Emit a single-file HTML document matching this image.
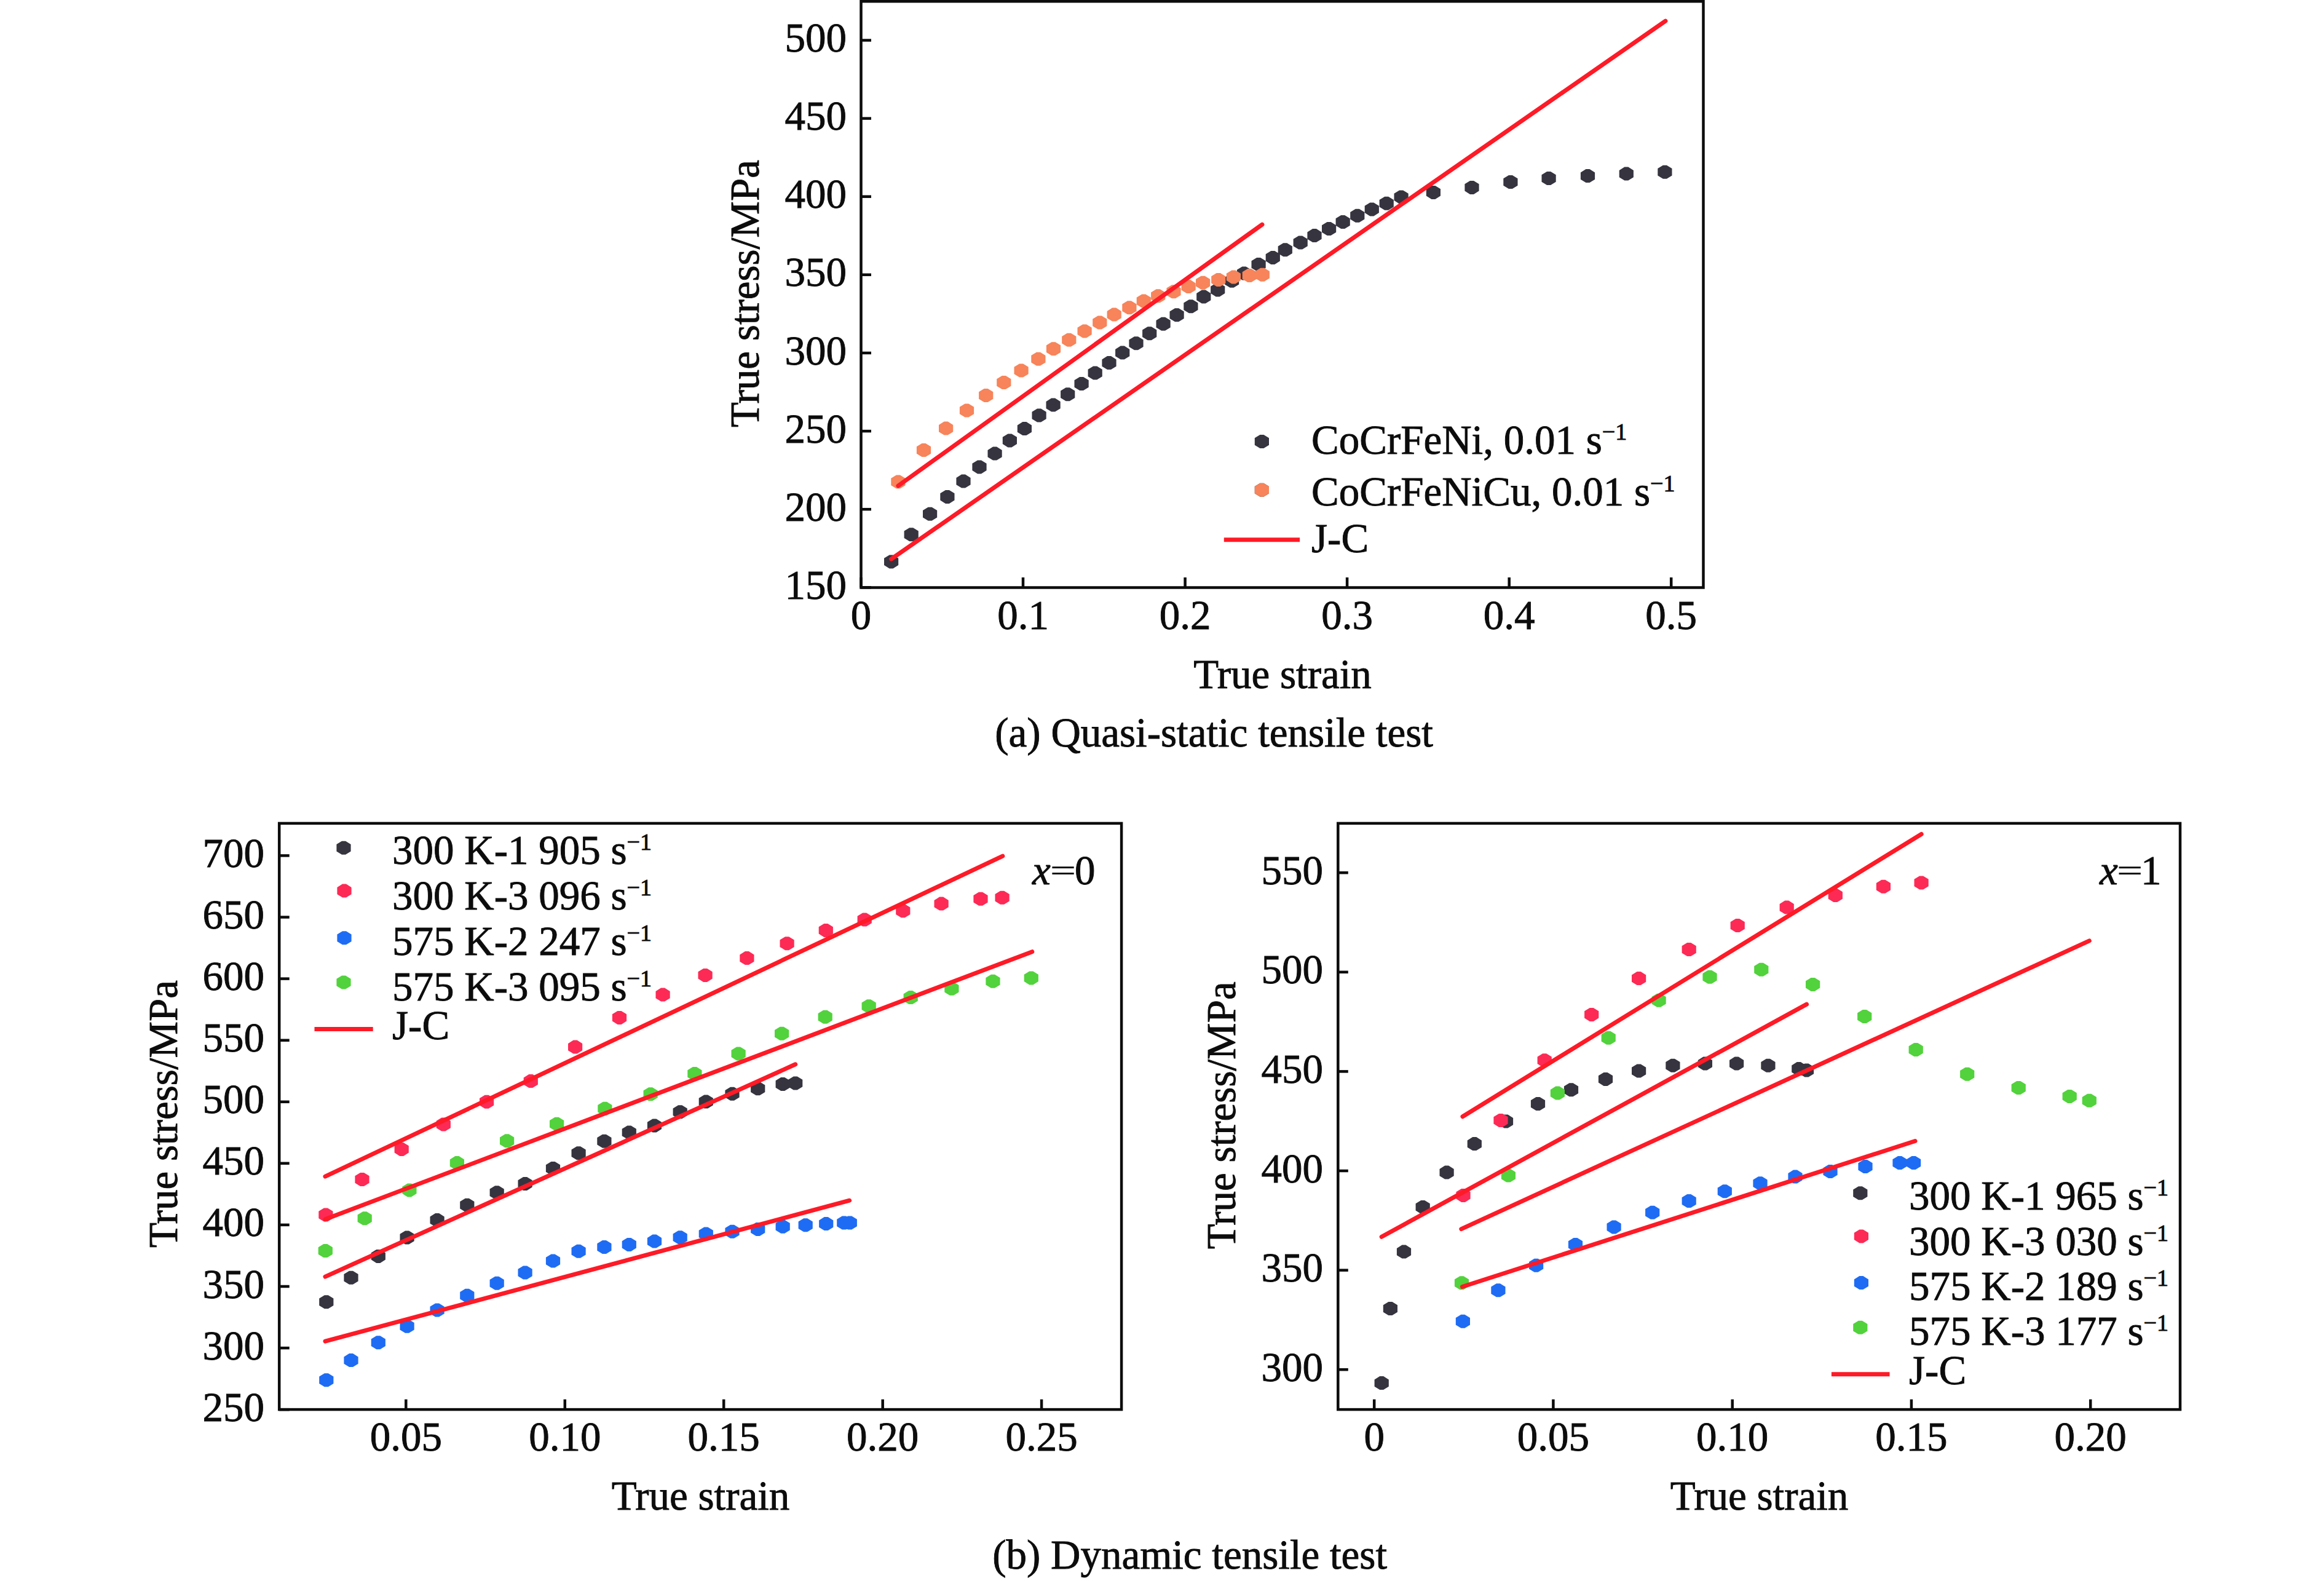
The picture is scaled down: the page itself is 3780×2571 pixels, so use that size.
<!DOCTYPE html>
<html><head><meta charset="utf-8"><style>
html,body{margin:0;padding:0;background:#fff;}
body{width:3780px;height:2571px;overflow:hidden;}
svg{display:block;}
</style></head><body>
<svg width="3780" height="2571" viewBox="0 0 3780 2571" fill="#0c0c0c">
<style>svg{font-family:"Liberation Serif", serif;} text{font-family:"Liberation Serif", serif;stroke:#0c0c0c;stroke-width:0.9px;}</style>
<rect width="3780" height="2571" fill="#fff"/>
<path d="M1438.0 907.7L1446.6 902.4L1452.6 902.4L1461.2 907.7L1461.2 919.1L1452.6 924.4L1446.6 924.4L1438.0 919.1ZM1470.6 863.5L1479.2 858.2L1485.2 858.2L1493.8 863.5L1493.8 874.9L1485.2 880.2L1479.2 880.2L1470.6 874.9ZM1501.0 830.1L1509.6 824.8L1515.6 824.8L1524.2 830.1L1524.2 841.5L1515.6 846.8L1509.6 846.8L1501.0 841.5ZM1529.3 802.2L1537.9 796.9L1543.9 796.9L1552.5 802.2L1552.5 813.6L1543.9 818.9L1537.9 818.9L1529.3 813.6ZM1555.4 776.9L1564.0 771.6L1570.0 771.6L1578.6 776.9L1578.6 788.3L1570.0 793.6L1564.0 793.6L1555.4 788.3ZM1581.4 753.7L1590.0 748.4L1596.0 748.4L1604.6 753.7L1604.6 765.1L1596.0 770.4L1590.0 770.4L1581.4 765.1ZM1606.5 731.9L1615.1 726.6L1621.1 726.6L1629.7 731.9L1629.7 743.3L1621.1 748.6L1615.1 748.6L1606.5 743.3ZM1630.8 710.7L1639.4 705.4L1645.4 705.4L1654.0 710.7L1654.0 722.1L1645.4 727.4L1639.4 727.4L1630.8 722.1ZM1654.8 691.4L1663.4 686.1L1669.4 686.1L1678.0 691.4L1678.0 702.8L1669.4 708.1L1663.4 708.1L1654.8 702.8ZM1678.5 669.8L1687.1 664.5L1693.1 664.5L1701.7 669.8L1701.7 681.2L1693.1 686.5L1687.1 686.5L1678.5 681.2ZM1701.5 652.9L1710.1 647.6L1716.1 647.6L1724.7 652.9L1724.7 664.3L1716.1 669.6L1710.1 669.6L1701.5 664.3ZM1725.1 635.6L1733.7 630.3L1739.7 630.3L1748.3 635.6L1748.3 647.0L1739.7 652.3L1733.7 652.3L1725.1 647.0ZM1747.5 618.3L1756.1 613.0L1762.1 613.0L1770.7 618.3L1770.7 629.7L1762.1 635.0L1756.1 635.0L1747.5 629.7ZM1769.6 600.8L1778.2 595.5L1784.2 595.5L1792.8 600.8L1792.8 612.2L1784.2 617.5L1778.2 617.5L1769.6 612.2ZM1792.4 584.4L1801.0 579.1L1807.0 579.1L1815.6 584.4L1815.6 595.8L1807.0 601.1L1801.0 601.1L1792.4 595.8ZM1814.1 567.9L1822.7 562.6L1828.7 562.6L1837.3 567.9L1837.3 579.3L1828.7 584.6L1822.7 584.6L1814.1 579.3ZM1836.4 552.5L1845.0 547.2L1851.0 547.2L1859.6 552.5L1859.6 563.9L1851.0 569.2L1845.0 569.2L1836.4 563.9ZM1858.1 536.5L1866.7 531.2L1872.7 531.2L1881.3 536.5L1881.3 547.9L1872.7 553.2L1866.7 553.2L1858.1 547.9ZM1880.5 521.1L1889.1 515.8L1895.1 515.8L1903.7 521.1L1903.7 532.5L1895.1 537.8L1889.1 537.8L1880.5 532.5ZM1902.5 506.5L1911.1 501.2L1917.1 501.2L1925.7 506.5L1925.7 517.9L1917.1 523.2L1911.1 523.2L1902.5 517.9ZM1925.3 492.5L1933.9 487.2L1939.9 487.2L1948.5 492.5L1948.5 503.9L1939.9 509.2L1933.9 509.2L1925.3 503.9ZM1946.2 476.9L1954.8 471.6L1960.8 471.6L1969.4 476.9L1969.4 488.3L1960.8 493.6L1954.8 493.6L1946.2 488.3ZM1969.1 465.7L1977.7 460.4L1983.7 460.4L1992.3 465.7L1992.3 477.1L1983.7 482.4L1977.7 482.4L1969.1 477.1ZM1992.0 451.0L2000.6 445.7L2006.6 445.7L2015.2 451.0L2015.2 462.4L2006.6 467.7L2000.6 467.7L1992.0 462.4ZM2011.9 438.7L2020.5 433.4L2026.5 433.4L2035.1 438.7L2035.1 450.1L2026.5 455.4L2020.5 455.4L2011.9 450.1ZM2035.5 424.3L2044.1 419.0L2050.1 419.0L2058.7 424.3L2058.7 435.7L2050.1 441.0L2044.1 441.0L2035.5 435.7ZM2058.7 413.2L2067.3 407.9L2073.3 407.9L2081.9 413.2L2081.9 424.6L2073.3 429.9L2067.3 429.9L2058.7 424.6ZM2078.7 400.5L2087.3 395.2L2093.3 395.2L2101.9 400.5L2101.9 411.9L2093.3 417.2L2087.3 417.2L2078.7 411.9ZM2103.6 388.8L2112.2 383.5L2118.2 383.5L2126.8 388.8L2126.8 400.2L2118.2 405.5L2112.2 405.5L2103.6 400.2ZM2126.4 377.4L2135.0 372.1L2141.0 372.1L2149.6 377.4L2149.6 388.8L2141.0 394.1L2135.0 394.1L2126.4 388.8ZM2150.0 366.3L2158.6 361.0L2164.6 361.0L2173.2 366.3L2173.2 377.7L2164.6 383.0L2158.6 383.0L2150.0 377.7ZM2172.6 355.3L2181.2 350.0L2187.2 350.0L2195.8 355.3L2195.8 366.7L2187.2 372.0L2181.2 372.0L2172.6 366.7ZM2196.2 345.0L2204.8 339.7L2210.8 339.7L2219.4 345.0L2219.4 356.4L2210.8 361.7L2204.8 361.7L2196.2 356.4ZM2219.7 334.7L2228.3 329.4L2234.3 329.4L2242.9 334.7L2242.9 346.1L2234.3 351.4L2228.3 351.4L2219.7 346.1ZM2243.6 325.0L2252.2 319.7L2258.2 319.7L2266.8 325.0L2266.8 336.4L2258.2 341.7L2252.2 341.7L2243.6 336.4ZM2267.5 314.7L2276.1 309.4L2282.1 309.4L2290.7 314.7L2290.7 326.1L2282.1 331.4L2276.1 331.4L2267.5 326.1ZM2319.8 307.2L2328.4 301.9L2334.4 301.9L2343.0 307.2L2343.0 318.6L2334.4 323.9L2328.4 323.9L2319.8 318.6ZM2382.4 299.2L2391.0 293.9L2397.0 293.9L2405.6 299.2L2405.6 310.6L2397.0 315.9L2391.0 315.9L2382.4 310.6ZM2445.3 290.3L2453.9 285.0L2459.9 285.0L2468.5 290.3L2468.5 301.7L2459.9 307.0L2453.9 307.0L2445.3 301.7ZM2507.5 284.3L2516.1 279.0L2522.1 279.0L2530.7 284.3L2530.7 295.7L2522.1 301.0L2516.1 301.0L2507.5 295.7ZM2570.9 280.4L2579.5 275.1L2585.5 275.1L2594.1 280.4L2594.1 291.8L2585.5 297.1L2579.5 297.1L2570.9 291.8ZM2633.7 276.9L2642.3 271.6L2648.3 271.6L2656.9 276.9L2656.9 288.3L2648.3 293.6L2642.3 293.6L2633.7 288.3ZM2696.3 274.1L2704.9 268.8L2710.9 268.8L2719.5 274.1L2719.5 285.5L2710.9 290.8L2704.9 290.8L2696.3 285.5Z" fill="#35343f"/>
<path d="M1449.3 777.8L1457.9 772.5L1463.9 772.5L1472.5 777.8L1472.5 789.2L1463.9 794.5L1457.9 794.5L1449.3 789.2ZM1490.9 726.3L1499.5 721.0L1505.5 721.0L1514.1 726.3L1514.1 737.7L1505.5 743.0L1499.5 743.0L1490.9 737.7ZM1527.0 690.9L1535.6 685.6L1541.6 685.6L1550.2 690.9L1550.2 702.3L1541.6 707.6L1535.6 707.6L1527.0 702.3ZM1560.9 661.8L1569.5 656.5L1575.5 656.5L1584.1 661.8L1584.1 673.2L1575.5 678.5L1569.5 678.5L1560.9 673.2ZM1592.1 637.3L1600.7 632.0L1606.7 632.0L1615.3 637.3L1615.3 648.7L1606.7 654.0L1600.7 654.0L1592.1 648.7ZM1621.2 616.3L1629.8 611.0L1635.8 611.0L1644.4 616.3L1644.4 627.7L1635.8 633.0L1629.8 633.0L1621.2 627.7ZM1649.5 596.8L1658.1 591.5L1664.1 591.5L1672.7 596.8L1672.7 608.2L1664.1 613.5L1658.1 613.5L1649.5 608.2ZM1677.3 578.0L1685.9 572.7L1691.9 572.7L1700.5 578.0L1700.5 589.4L1691.9 594.7L1685.9 594.7L1677.3 589.4ZM1701.9 561.6L1710.5 556.3L1716.5 556.3L1725.1 561.6L1725.1 573.0L1716.5 578.3L1710.5 578.3L1701.9 573.0ZM1727.2 547.0L1735.8 541.7L1741.8 541.7L1750.4 547.0L1750.4 558.4L1741.8 563.7L1735.8 563.7L1727.2 558.4ZM1752.5 532.7L1761.1 527.4L1767.1 527.4L1775.7 532.7L1775.7 544.1L1767.1 549.4L1761.1 549.4L1752.5 544.1ZM1777.2 518.8L1785.8 513.5L1791.8 513.5L1800.4 518.8L1800.4 530.2L1791.8 535.5L1785.8 535.5L1777.2 530.2ZM1800.6 505.9L1809.2 500.6L1815.2 500.6L1823.8 505.9L1823.8 517.3L1815.2 522.6L1809.2 522.6L1800.6 517.3ZM1825.3 494.5L1833.9 489.2L1839.9 489.2L1848.5 494.5L1848.5 505.9L1839.9 511.2L1833.9 511.2L1825.3 505.9ZM1848.7 483.8L1857.3 478.5L1863.3 478.5L1871.9 483.8L1871.9 495.2L1863.3 500.5L1857.3 500.5L1848.7 495.2ZM1872.1 475.6L1880.7 470.3L1886.7 470.3L1895.3 475.6L1895.3 487.0L1886.7 492.3L1880.7 492.3L1872.1 487.0ZM1897.4 468.5L1906.0 463.2L1912.0 463.2L1920.6 468.5L1920.6 479.9L1912.0 485.2L1906.0 485.2L1897.4 479.9ZM1921.5 460.4L1930.1 455.1L1936.1 455.1L1944.7 460.4L1944.7 471.8L1936.1 477.1L1930.1 477.1L1921.5 471.8ZM1945.0 454.1L1953.6 448.8L1959.6 448.8L1968.2 454.1L1968.2 465.5L1959.6 470.8L1953.6 470.8L1945.0 465.5ZM1970.2 449.2L1978.8 443.9L1984.8 443.9L1993.4 449.2L1993.4 460.6L1984.8 465.9L1978.8 465.9L1970.2 460.6ZM1994.8 444.7L2003.4 439.4L2009.4 439.4L2018.0 444.7L2018.0 456.1L2009.4 461.4L2003.4 461.4L1994.8 456.1ZM2020.7 442.3L2029.3 437.0L2035.3 437.0L2043.9 442.3L2043.9 453.7L2035.3 459.0L2029.3 459.0L2020.7 453.7ZM2041.7 441.1L2050.3 435.8L2056.3 435.8L2064.9 441.1L2064.9 452.5L2056.3 457.8L2050.3 457.8L2041.7 452.5Z" fill="#f7845a"/>
<line x1="1449.6" y1="909.1" x2="2708.9" y2="34.1" stroke="#fe1a26" stroke-width="7" stroke-linecap="round"/>
<line x1="1460.9" y1="790" x2="2052.9" y2="365.1" stroke="#fe1a26" stroke-width="7" stroke-linecap="round"/>
<rect x="1400.5" y="2.25" width="1370.0" height="953.25" fill="none" stroke="#0c0c0c" stroke-width="4.5"/>
<line x1="1400.5" y1="955.3" x2="1417.0" y2="955.3" stroke="#0c0c0c" stroke-width="4.5"/>
<text x="1377" y="973.8" text-anchor="end" font-size="67" >150</text>
<line x1="1400.5" y1="828.2" x2="1417.0" y2="828.2" stroke="#0c0c0c" stroke-width="4.5"/>
<text x="1377" y="846.7" text-anchor="end" font-size="67" >200</text>
<line x1="1400.5" y1="701.1" x2="1417.0" y2="701.1" stroke="#0c0c0c" stroke-width="4.5"/>
<text x="1377" y="719.6" text-anchor="end" font-size="67" >250</text>
<line x1="1400.5" y1="574.0" x2="1417.0" y2="574.0" stroke="#0c0c0c" stroke-width="4.5"/>
<text x="1377" y="592.5" text-anchor="end" font-size="67" >300</text>
<line x1="1400.5" y1="446.8" x2="1417.0" y2="446.8" stroke="#0c0c0c" stroke-width="4.5"/>
<text x="1377" y="465.3" text-anchor="end" font-size="67" >350</text>
<line x1="1400.5" y1="319.7" x2="1417.0" y2="319.7" stroke="#0c0c0c" stroke-width="4.5"/>
<text x="1377" y="338.2" text-anchor="end" font-size="67" >400</text>
<line x1="1400.5" y1="192.6" x2="1417.0" y2="192.6" stroke="#0c0c0c" stroke-width="4.5"/>
<text x="1377" y="211.1" text-anchor="end" font-size="67" >450</text>
<line x1="1400.5" y1="65.5" x2="1417.0" y2="65.5" stroke="#0c0c0c" stroke-width="4.5"/>
<text x="1377" y="84.0" text-anchor="end" font-size="67" >500</text>
<line x1="1400.5" y1="955.5" x2="1400.5" y2="939.0" stroke="#0c0c0c" stroke-width="4.5"/>
<text x="1400.5" y="1023.3" text-anchor="middle" font-size="67" >0</text>
<line x1="1664.0" y1="955.5" x2="1664.0" y2="939.0" stroke="#0c0c0c" stroke-width="4.5"/>
<text x="1664.0" y="1023.3" text-anchor="middle" font-size="67" >0.1</text>
<line x1="1927.6" y1="955.5" x2="1927.6" y2="939.0" stroke="#0c0c0c" stroke-width="4.5"/>
<text x="1927.6" y="1023.3" text-anchor="middle" font-size="67" >0.2</text>
<line x1="2191.1" y1="955.5" x2="2191.1" y2="939.0" stroke="#0c0c0c" stroke-width="4.5"/>
<text x="2191.1" y="1023.3" text-anchor="middle" font-size="67" >0.3</text>
<line x1="2454.7" y1="955.5" x2="2454.7" y2="939.0" stroke="#0c0c0c" stroke-width="4.5"/>
<text x="2454.7" y="1023.3" text-anchor="middle" font-size="67" >0.4</text>
<line x1="2718.2" y1="955.5" x2="2718.2" y2="939.0" stroke="#0c0c0c" stroke-width="4.5"/>
<text x="2718.2" y="1023.3" text-anchor="middle" font-size="67" >0.5</text>
<text x="2086" y="1119" text-anchor="middle" font-size="67" >True strain</text>
<text transform="translate(1234,477.6) rotate(-90)" text-anchor="middle" font-size="67">True stress/MPa</text>
<text x="1974.6" y="1214.2" text-anchor="middle" font-size="67" >(a) Quasi-static tensile test</text>
<path d="M2040.8 712.3L2049.4 707.0L2055.4 707.0L2064.0 712.3L2064.0 723.7L2055.4 729.0L2049.4 729.0L2040.8 723.7ZM2040.8 791.0L2049.4 785.7L2055.4 785.7L2064.0 791.0L2064.0 802.4L2055.4 807.7L2049.4 807.7L2040.8 802.4Z" fill="#35343f"/>
<path d="M2040.8 791.0L2049.4 785.7L2055.4 785.7L2064.0 791.0L2064.0 802.4L2055.4 807.7L2049.4 807.7L2040.8 802.4Z" fill="#f7845a"/>
<line x1="1990.8" y1="877.8" x2="2114.1" y2="877.8" stroke="#fe1a26" stroke-width="7" stroke-linecap="butt"/>
<text x="2133" y="738.2" font-size="67">CoCrFeNi, 0.01 s<tspan font-size="38" dy="-23">&#8722;1</tspan></text>
<text x="2133" y="822.2" font-size="67">CoCrFeNiCu, 0.01 s<tspan font-size="38" dy="-23">&#8722;1</tspan></text>
<text x="2133" y="898" text-anchor="start" font-size="67" >J-C</text>
<path d="M519.2 2111.5L527.8 2106.2L533.8 2106.2L542.4 2111.5L542.4 2122.9L533.8 2128.2L527.8 2128.2L519.2 2122.9ZM559.4 2072.0L568.0 2066.7L574.0 2066.7L582.6 2072.0L582.6 2083.4L574.0 2088.7L568.0 2088.7L559.4 2083.4ZM603.7 2037.2L612.3 2031.9L618.3 2031.9L626.9 2037.2L626.9 2048.6L618.3 2053.9L612.3 2053.9L603.7 2048.6ZM650.5 2006.8L659.1 2001.5L665.1 2001.5L673.7 2006.8L673.7 2018.2L665.1 2023.5L659.1 2023.5L650.5 2018.2ZM699.5 1978.4L708.1 1973.1L714.1 1973.1L722.7 1978.4L722.7 1989.8L714.1 1995.1L708.1 1995.1L699.5 1989.8ZM748.2 1954.0L756.8 1948.7L762.8 1948.7L771.4 1954.0L771.4 1965.4L762.8 1970.7L756.8 1970.7L748.2 1965.4ZM796.6 1933.5L805.2 1928.2L811.2 1928.2L819.8 1933.5L819.8 1944.9L811.2 1950.2L805.2 1950.2L796.6 1944.9ZM842.5 1919.2L851.1 1913.9L857.1 1913.9L865.7 1919.2L865.7 1930.6L857.1 1935.9L851.1 1935.9L842.5 1930.6ZM887.9 1894.3L896.5 1889.0L902.5 1889.0L911.1 1894.3L911.1 1905.7L902.5 1911.0L896.5 1911.0L887.9 1905.7ZM929.5 1869.6L938.1 1864.3L944.1 1864.3L952.7 1869.6L952.7 1881.0L944.1 1886.3L938.1 1886.3L929.5 1881.0ZM971.3 1850.0L979.9 1844.7L985.9 1844.7L994.5 1850.0L994.5 1861.4L985.9 1866.7L979.9 1866.7L971.3 1861.4ZM1011.7 1835.8L1020.3 1830.5L1026.3 1830.5L1034.9 1835.8L1034.9 1847.2L1026.3 1852.5L1020.3 1852.5L1011.7 1847.2ZM1052.9 1824.7L1061.5 1819.4L1067.5 1819.4L1076.1 1824.7L1076.1 1836.1L1067.5 1841.4L1061.5 1841.4L1052.9 1836.1ZM1094.6 1802.6L1103.2 1797.3L1109.2 1797.3L1117.8 1802.6L1117.8 1814.0L1109.2 1819.3L1103.2 1819.3L1094.6 1814.0ZM1136.7 1785.8L1145.3 1780.5L1151.3 1780.5L1159.9 1785.8L1159.9 1797.2L1151.3 1802.5L1145.3 1802.5L1136.7 1797.2ZM1179.4 1773.1L1188.0 1767.8L1194.0 1767.8L1202.6 1773.1L1202.6 1784.5L1194.0 1789.8L1188.0 1789.8L1179.4 1784.5ZM1221.1 1764.6L1229.7 1759.3L1235.7 1759.3L1244.3 1764.6L1244.3 1776.0L1235.7 1781.3L1229.7 1781.3L1221.1 1776.0ZM1261.6 1757.3L1270.2 1752.0L1276.2 1752.0L1284.8 1757.3L1284.8 1768.7L1276.2 1774.0L1270.2 1774.0L1261.6 1768.7ZM1282.1 1755.8L1290.7 1750.5L1296.7 1750.5L1305.3 1755.8L1305.3 1767.2L1296.7 1772.5L1290.7 1772.5L1282.1 1767.2Z" fill="#35343f"/>
<path d="M518.3 1969.8L526.9 1964.5L532.9 1964.5L541.5 1969.8L541.5 1981.2L532.9 1986.5L526.9 1986.5L518.3 1981.2ZM577.4 1912.3L586.0 1907.0L592.0 1907.0L600.6 1912.3L600.6 1923.7L592.0 1929.0L586.0 1929.0L577.4 1923.7ZM641.6 1863.2L650.2 1857.9L656.2 1857.9L664.8 1863.2L664.8 1874.6L656.2 1879.9L650.2 1879.9L641.6 1874.6ZM709.7 1822.8L718.3 1817.5L724.3 1817.5L732.9 1822.8L732.9 1834.2L724.3 1839.5L718.3 1839.5L709.7 1834.2ZM780.0 1786.0L788.6 1780.7L794.6 1780.7L803.2 1786.0L803.2 1797.4L794.6 1802.7L788.6 1802.7L780.0 1797.4ZM851.7 1752.4L860.3 1747.1L866.3 1747.1L874.9 1752.4L874.9 1763.8L866.3 1769.1L860.3 1769.1L851.7 1763.8ZM924.0 1696.9L932.6 1691.6L938.6 1691.6L947.2 1696.9L947.2 1708.3L938.6 1713.6L932.6 1713.6L924.0 1708.3ZM995.9 1649.2L1004.5 1643.9L1010.5 1643.9L1019.1 1649.2L1019.1 1660.6L1010.5 1665.9L1004.5 1665.9L995.9 1660.6ZM1066.5 1611.9L1075.1 1606.6L1081.1 1606.6L1089.7 1611.9L1089.7 1623.3L1081.1 1628.6L1075.1 1628.6L1066.5 1623.3ZM1135.5 1580.2L1144.1 1574.9L1150.1 1574.9L1158.7 1580.2L1158.7 1591.6L1150.1 1596.9L1144.1 1596.9L1135.5 1591.6ZM1203.3 1552.4L1211.9 1547.1L1217.9 1547.1L1226.5 1552.4L1226.5 1563.8L1217.9 1569.1L1211.9 1569.1L1203.3 1563.8ZM1268.5 1528.5L1277.1 1523.2L1283.1 1523.2L1291.7 1528.5L1291.7 1539.9L1283.1 1545.2L1277.1 1545.2L1268.5 1539.9ZM1331.7 1507.2L1340.3 1501.9L1346.3 1501.9L1354.9 1507.2L1354.9 1518.6L1346.3 1523.9L1340.3 1523.9L1331.7 1518.6ZM1394.6 1489.8L1403.2 1484.5L1409.2 1484.5L1417.8 1489.8L1417.8 1501.2L1409.2 1506.5L1403.2 1506.5L1394.6 1501.2ZM1457.2 1475.6L1465.8 1470.3L1471.8 1470.3L1480.4 1475.6L1480.4 1487.0L1471.8 1492.3L1465.8 1492.3L1457.2 1487.0ZM1519.5 1463.9L1528.1 1458.6L1534.1 1458.6L1542.7 1463.9L1542.7 1475.3L1534.1 1480.6L1528.1 1480.6L1519.5 1475.3ZM1583.4 1456.0L1592.0 1450.7L1598.0 1450.7L1606.6 1456.0L1606.6 1467.4L1598.0 1472.7L1592.0 1472.7L1583.4 1467.4ZM1618.5 1454.1L1627.1 1448.8L1633.1 1448.8L1641.7 1454.1L1641.7 1465.5L1633.1 1470.8L1627.1 1470.8L1618.5 1465.5Z" fill="#fd2a55"/>
<path d="M519.2 2238.6L527.8 2233.3L533.8 2233.3L542.4 2238.6L542.4 2250.0L533.8 2255.3L527.8 2255.3L519.2 2250.0ZM559.4 2206.4L568.0 2201.1L574.0 2201.1L582.6 2206.4L582.6 2217.8L574.0 2223.1L568.0 2223.1L559.4 2217.8ZM603.7 2177.6L612.3 2172.3L618.3 2172.3L626.9 2177.6L626.9 2189.0L618.3 2194.3L612.3 2194.3L603.7 2189.0ZM650.5 2151.0L659.1 2145.7L665.1 2145.7L673.7 2151.0L673.7 2162.4L665.1 2167.7L659.1 2167.7L650.5 2162.4ZM699.5 2124.8L708.1 2119.5L714.1 2119.5L722.7 2124.8L722.7 2136.2L714.1 2141.5L708.1 2141.5L699.5 2136.2ZM748.2 2101.1L756.8 2095.8L762.8 2095.8L771.4 2101.1L771.4 2112.5L762.8 2117.8L756.8 2117.8L748.2 2112.5ZM796.6 2081.1L805.2 2075.8L811.2 2075.8L819.8 2081.1L819.8 2092.5L811.2 2097.8L805.2 2097.8L796.6 2092.5ZM842.5 2063.8L851.1 2058.5L857.1 2058.5L865.7 2063.8L865.7 2075.2L857.1 2080.5L851.1 2080.5L842.5 2075.2ZM887.9 2044.8L896.5 2039.5L902.5 2039.5L911.1 2044.8L911.1 2056.2L902.5 2061.5L896.5 2061.5L887.9 2056.2ZM929.5 2029.0L938.1 2023.7L944.1 2023.7L952.7 2029.0L952.7 2040.4L944.1 2045.7L938.1 2045.7L929.5 2040.4ZM971.3 2022.3L979.9 2017.0L985.9 2017.0L994.5 2022.3L994.5 2033.7L985.9 2039.0L979.9 2039.0L971.3 2033.7ZM1011.7 2018.2L1020.3 2012.9L1026.3 2012.9L1034.9 2018.2L1034.9 2029.6L1026.3 2034.9L1020.3 2034.9L1011.7 2029.6ZM1052.9 2012.9L1061.5 2007.6L1067.5 2007.6L1076.1 2012.9L1076.1 2024.3L1067.5 2029.6L1061.5 2029.6L1052.9 2024.3ZM1094.6 2006.5L1103.2 2001.2L1109.2 2001.2L1117.8 2006.5L1117.8 2017.9L1109.2 2023.2L1103.2 2023.2L1094.6 2017.9ZM1136.7 2000.8L1145.3 1995.5L1151.3 1995.5L1159.9 2000.8L1159.9 2012.2L1151.3 2017.5L1145.3 2017.5L1136.7 2012.2ZM1179.4 1997.1L1188.0 1991.8L1194.0 1991.8L1202.6 1997.1L1202.6 2008.5L1194.0 2013.8L1188.0 2013.8L1179.4 2008.5ZM1221.1 1993.3L1229.7 1988.0L1235.7 1988.0L1244.3 1993.3L1244.3 2004.7L1235.7 2010.0L1229.7 2010.0L1221.1 2004.7ZM1261.6 1989.1L1270.2 1983.8L1276.2 1983.8L1284.8 1989.1L1284.8 2000.5L1276.2 2005.8L1270.2 2005.8L1261.6 2000.5ZM1298.6 1986.6L1307.2 1981.3L1313.2 1981.3L1321.8 1986.6L1321.8 1998.0L1313.2 2003.3L1307.2 2003.3L1298.6 1998.0ZM1332.1 1984.4L1340.7 1979.1L1346.7 1979.1L1355.3 1984.4L1355.3 1995.8L1346.7 2001.1L1340.7 2001.1L1332.1 1995.8ZM1361.2 1982.8L1369.8 1977.5L1375.8 1977.5L1384.4 1982.8L1384.4 1994.2L1375.8 1999.5L1369.8 1999.5L1361.2 1994.2ZM1370.7 1982.8L1379.3 1977.5L1385.3 1977.5L1393.9 1982.8L1393.9 1994.2L1385.3 1999.5L1379.3 1999.5L1370.7 1994.2Z" fill="#1f6cf4"/>
<path d="M517.7 2028.3L526.3 2023.0L532.3 2023.0L540.9 2028.3L540.9 2039.7L532.3 2045.0L526.3 2045.0L517.7 2039.7ZM581.6 1975.5L590.2 1970.2L596.2 1970.2L604.8 1975.5L604.8 1986.9L596.2 1992.2L590.2 1992.2L581.6 1986.9ZM654.3 1929.7L662.9 1924.4L668.9 1924.4L677.5 1929.7L677.5 1941.1L668.9 1946.4L662.9 1946.4L654.3 1941.1ZM731.8 1885.4L740.4 1880.1L746.4 1880.1L755.0 1885.4L755.0 1896.8L746.4 1902.1L740.4 1902.1L731.8 1896.8ZM813.0 1849.6L821.6 1844.3L827.6 1844.3L836.2 1849.6L836.2 1861.0L827.6 1866.3L821.6 1866.3L813.0 1861.0ZM894.0 1822.1L902.6 1816.8L908.6 1816.8L917.2 1822.1L917.2 1833.5L908.6 1838.8L902.6 1838.8L894.0 1833.5ZM972.3 1797.1L980.9 1791.8L986.9 1791.8L995.5 1797.1L995.5 1808.5L986.9 1813.8L980.9 1813.8L972.3 1808.5ZM1046.5 1773.5L1055.1 1768.2L1061.1 1768.2L1069.7 1773.5L1069.7 1784.9L1061.1 1790.2L1055.1 1790.2L1046.5 1784.9ZM1118.3 1740.3L1126.9 1735.0L1132.9 1735.0L1141.5 1740.3L1141.5 1751.7L1132.9 1757.0L1126.9 1757.0L1118.3 1751.7ZM1189.5 1707.7L1198.1 1702.4L1204.1 1702.4L1212.7 1707.7L1212.7 1719.1L1204.1 1724.4L1198.1 1724.4L1189.5 1719.1ZM1260.0 1675.1L1268.6 1669.8L1274.6 1669.8L1283.2 1675.1L1283.2 1686.5L1274.6 1691.8L1268.6 1691.8L1260.0 1686.5ZM1330.6 1648.1L1339.2 1642.8L1345.2 1642.8L1353.8 1648.1L1353.8 1659.5L1345.2 1664.8L1339.2 1664.8L1330.6 1659.5ZM1401.6 1630.6L1410.2 1625.3L1416.2 1625.3L1424.8 1630.6L1424.8 1642.0L1416.2 1647.3L1410.2 1647.3L1401.6 1642.0ZM1469.6 1616.3L1478.2 1611.0L1484.2 1611.0L1492.8 1616.3L1492.8 1627.7L1484.2 1633.0L1478.2 1633.0L1469.6 1627.7ZM1536.3 1602.1L1544.9 1596.8L1550.9 1596.8L1559.5 1602.1L1559.5 1613.5L1550.9 1618.8L1544.9 1618.8L1536.3 1613.5ZM1603.4 1590.1L1612.0 1584.8L1618.0 1584.8L1626.6 1590.1L1626.6 1601.5L1618.0 1606.8L1612.0 1606.8L1603.4 1601.5ZM1665.7 1584.7L1674.3 1579.4L1680.3 1579.4L1688.9 1584.7L1688.9 1596.1L1680.3 1601.4L1674.3 1601.4L1665.7 1596.1Z" fill="#52d23c"/>
<line x1="529" y1="1913.2" x2="1630.8" y2="1392.1" stroke="#fe1a26" stroke-width="7" stroke-linecap="round"/>
<line x1="529" y1="1982.8" x2="1678.8" y2="1547.7" stroke="#fe1a26" stroke-width="7" stroke-linecap="round"/>
<line x1="529" y1="2076.1" x2="1293.7" y2="1730.8" stroke="#fe1a26" stroke-width="7" stroke-linecap="round"/>
<line x1="529" y1="2181.1" x2="1381.7" y2="1952.2" stroke="#fe1a26" stroke-width="7" stroke-linecap="round"/>
<rect x="454.2" y="1338.9" width="1369.8999999999999" height="953.1999999999998" fill="none" stroke="#0c0c0c" stroke-width="4.5"/>
<line x1="454.2" y1="2292.2" x2="470.7" y2="2292.2" stroke="#0c0c0c" stroke-width="4.5"/>
<text x="430" y="2310.7" text-anchor="end" font-size="67" >250</text>
<line x1="454.2" y1="2192.1" x2="470.7" y2="2192.1" stroke="#0c0c0c" stroke-width="4.5"/>
<text x="430" y="2210.6" text-anchor="end" font-size="67" >300</text>
<line x1="454.2" y1="2092.0" x2="470.7" y2="2092.0" stroke="#0c0c0c" stroke-width="4.5"/>
<text x="430" y="2110.5" text-anchor="end" font-size="67" >350</text>
<line x1="454.2" y1="1991.9" x2="470.7" y2="1991.9" stroke="#0c0c0c" stroke-width="4.5"/>
<text x="430" y="2010.4" text-anchor="end" font-size="67" >400</text>
<line x1="454.2" y1="1891.8" x2="470.7" y2="1891.8" stroke="#0c0c0c" stroke-width="4.5"/>
<text x="430" y="1910.3" text-anchor="end" font-size="67" >450</text>
<line x1="454.2" y1="1791.8" x2="470.7" y2="1791.8" stroke="#0c0c0c" stroke-width="4.5"/>
<text x="430" y="1810.2" text-anchor="end" font-size="67" >500</text>
<line x1="454.2" y1="1691.7" x2="470.7" y2="1691.7" stroke="#0c0c0c" stroke-width="4.5"/>
<text x="430" y="1710.2" text-anchor="end" font-size="67" >550</text>
<line x1="454.2" y1="1591.6" x2="470.7" y2="1591.6" stroke="#0c0c0c" stroke-width="4.5"/>
<text x="430" y="1610.1" text-anchor="end" font-size="67" >600</text>
<line x1="454.2" y1="1491.5" x2="470.7" y2="1491.5" stroke="#0c0c0c" stroke-width="4.5"/>
<text x="430" y="1510.0" text-anchor="end" font-size="67" >650</text>
<line x1="454.2" y1="1391.4" x2="470.7" y2="1391.4" stroke="#0c0c0c" stroke-width="4.5"/>
<text x="430" y="1409.9" text-anchor="end" font-size="67" >700</text>
<line x1="660.3" y1="2292.1" x2="660.3" y2="2275.6" stroke="#0c0c0c" stroke-width="4.5"/>
<text x="660.3" y="2358.5" text-anchor="middle" font-size="67" >0.05</text>
<line x1="918.8" y1="2292.1" x2="918.8" y2="2275.6" stroke="#0c0c0c" stroke-width="4.5"/>
<text x="918.8" y="2358.5" text-anchor="middle" font-size="67" >0.10</text>
<line x1="1177.2" y1="2292.1" x2="1177.2" y2="2275.6" stroke="#0c0c0c" stroke-width="4.5"/>
<text x="1177.2" y="2358.5" text-anchor="middle" font-size="67" >0.15</text>
<line x1="1435.7" y1="2292.1" x2="1435.7" y2="2275.6" stroke="#0c0c0c" stroke-width="4.5"/>
<text x="1435.7" y="2358.5" text-anchor="middle" font-size="67" >0.20</text>
<line x1="1694.1" y1="2292.1" x2="1694.1" y2="2275.6" stroke="#0c0c0c" stroke-width="4.5"/>
<text x="1694.1" y="2358.5" text-anchor="middle" font-size="67" >0.25</text>
<text x="1139.5" y="2455.4" text-anchor="middle" font-size="67" >True strain</text>
<text transform="translate(287.5,1811.5) rotate(-90)" text-anchor="middle" font-size="67">True stress/MPa</text>
<path d="M547.4 1373.0L556.0 1367.7L562.0 1367.7L570.6 1373.0L570.6 1384.4L562.0 1389.7L556.0 1389.7L547.4 1384.4Z" fill="#35343f"/>
<path d="M548.4 1442.9L557.0 1437.6L563.0 1437.6L571.6 1442.9L571.6 1454.3L563.0 1459.6L557.0 1459.6L548.4 1454.3Z" fill="#fd2a55"/>
<path d="M548.4 1519.5L557.0 1514.2L563.0 1514.2L571.6 1519.5L571.6 1530.9L563.0 1536.2L557.0 1536.2L548.4 1530.9Z" fill="#1f6cf4"/>
<path d="M547.4 1591.8L556.0 1586.5L562.0 1586.5L570.6 1591.8L570.6 1603.2L562.0 1608.5L556.0 1608.5L547.4 1603.2Z" fill="#52d23c"/>
<line x1="511.5" y1="1673.5" x2="606.7" y2="1673.5" stroke="#fe1a26" stroke-width="7" stroke-linecap="butt"/>
<text x="638" y="1405.4" font-size="67">300 K-1 905 s<tspan font-size="38" dy="-23">&#8722;1</tspan></text>
<text x="638" y="1479.3" font-size="67">300 K-3 096 s<tspan font-size="38" dy="-23">&#8722;1</tspan></text>
<text x="638" y="1553.4" font-size="67">575 K-2 247 s<tspan font-size="38" dy="-23">&#8722;1</tspan></text>
<text x="638" y="1626.8" font-size="67">575 K-3 095 s<tspan font-size="38" dy="-23">&#8722;1</tspan></text>
<text x="638" y="1690" text-anchor="start" font-size="67" >J-C</text>
<text x="1679" y="1438.4" font-size="67" font-style="italic">x</text>
<rect x="1711.4" y="1409.2" width="35.3" height="2.9"/><rect x="1711.4" y="1419.1" width="35.3" height="2.9"/>
<text x="1764.8" y="1438.4" text-anchor="middle" font-size="67" >0</text>
<path d="M2235.6 2243.4L2244.2 2238.1L2250.2 2238.1L2258.8 2243.4L2258.8 2254.8L2250.2 2260.1L2244.2 2260.1L2235.6 2254.8ZM2249.8 2122.3L2258.4 2117.0L2264.4 2117.0L2273.0 2122.3L2273.0 2133.7L2264.4 2139.0L2258.4 2139.0L2249.8 2133.7ZM2271.9 2029.9L2280.5 2024.6L2286.5 2024.6L2295.1 2029.9L2295.1 2041.3L2286.5 2046.6L2280.5 2046.6L2271.9 2041.3ZM2302.6 1957.2L2311.2 1951.9L2317.2 1951.9L2325.8 1957.2L2325.8 1968.6L2317.2 1973.9L2311.2 1973.9L2302.6 1968.6ZM2341.5 1900.9L2350.1 1895.6L2356.1 1895.6L2364.7 1900.9L2364.7 1912.3L2356.1 1917.6L2350.1 1917.6L2341.5 1912.3ZM2386.7 1854.4L2395.3 1849.1L2401.3 1849.1L2409.9 1854.4L2409.9 1865.8L2401.3 1871.1L2395.3 1871.1L2386.7 1865.8ZM2437.9 1817.9L2446.5 1812.6L2452.5 1812.6L2461.1 1817.9L2461.1 1829.3L2452.5 1834.6L2446.5 1834.6L2437.9 1829.3ZM2489.9 1789.3L2498.5 1784.0L2504.5 1784.0L2513.1 1789.3L2513.1 1800.7L2504.5 1806.0L2498.5 1806.0L2489.9 1800.7ZM2543.9 1766.6L2552.5 1761.3L2558.5 1761.3L2567.1 1766.6L2567.1 1778.0L2558.5 1783.3L2552.5 1783.3L2543.9 1778.0ZM2599.9 1749.2L2608.5 1743.9L2614.5 1743.9L2623.1 1749.2L2623.1 1760.6L2614.5 1765.9L2608.5 1765.9L2599.9 1760.6ZM2654.0 1735.8L2662.6 1730.5L2668.6 1730.5L2677.2 1735.8L2677.2 1747.2L2668.6 1752.5L2662.6 1752.5L2654.0 1747.2ZM2709.3 1727.0L2717.9 1721.7L2723.9 1721.7L2732.5 1727.0L2732.5 1738.4L2723.9 1743.7L2717.9 1743.7L2709.3 1738.4ZM2761.8 1723.9L2770.4 1718.6L2776.4 1718.6L2785.0 1723.9L2785.0 1735.3L2776.4 1740.6L2770.4 1740.6L2761.8 1735.3ZM2813.0 1723.9L2821.6 1718.6L2827.6 1718.6L2836.2 1723.9L2836.2 1735.3L2827.6 1740.6L2821.6 1740.6L2813.0 1735.3ZM2864.3 1727.0L2872.9 1721.7L2878.9 1721.7L2887.5 1727.0L2887.5 1738.4L2878.9 1743.7L2872.9 1743.7L2864.3 1738.4ZM2914.2 1732.4L2922.8 1727.1L2928.8 1727.1L2937.4 1732.4L2937.4 1743.8L2928.8 1749.1L2922.8 1749.1L2914.2 1743.8ZM2926.9 1734.9L2935.5 1729.6L2941.5 1729.6L2950.1 1734.9L2950.1 1746.3L2941.5 1751.6L2935.5 1751.6L2926.9 1746.3Z" fill="#35343f"/>
<path d="M2368.4 1938.2L2377.0 1932.9L2383.0 1932.9L2391.6 1938.2L2391.6 1949.6L2383.0 1954.9L2377.0 1954.9L2368.4 1949.6ZM2429.4 1816.2L2438.0 1810.9L2444.0 1810.9L2452.6 1816.2L2452.6 1827.6L2444.0 1832.9L2438.0 1832.9L2429.4 1827.6ZM2500.6 1718.5L2509.2 1713.2L2515.2 1713.2L2523.8 1718.5L2523.8 1729.9L2515.2 1735.2L2509.2 1735.2L2500.6 1729.9ZM2577.1 1644.2L2585.7 1638.9L2591.7 1638.9L2600.3 1644.2L2600.3 1655.6L2591.7 1660.9L2585.7 1660.9L2577.1 1655.6ZM2654.0 1585.4L2662.6 1580.1L2668.6 1580.1L2677.2 1585.4L2677.2 1596.8L2668.6 1602.1L2662.6 1602.1L2654.0 1596.8ZM2735.6 1538.3L2744.2 1533.0L2750.2 1533.0L2758.8 1538.3L2758.8 1549.7L2750.2 1555.0L2744.2 1555.0L2735.6 1549.7ZM2814.6 1499.3L2823.2 1494.0L2829.2 1494.0L2837.8 1499.3L2837.8 1510.7L2829.2 1516.0L2823.2 1516.0L2814.6 1510.7ZM2894.6 1469.9L2903.2 1464.6L2909.2 1464.6L2917.8 1469.9L2917.8 1481.3L2909.2 1486.6L2903.2 1486.6L2894.6 1481.3ZM2973.7 1450.3L2982.3 1445.0L2988.3 1445.0L2996.9 1450.3L2996.9 1461.7L2988.3 1467.0L2982.3 1467.0L2973.7 1461.7ZM3051.8 1436.1L3060.4 1430.8L3066.4 1430.8L3075.0 1436.1L3075.0 1447.5L3066.4 1452.8L3060.4 1452.8L3051.8 1447.5ZM3113.5 1429.8L3122.1 1424.5L3128.1 1424.5L3136.7 1429.8L3136.7 1441.2L3128.1 1446.5L3122.1 1446.5L3113.5 1441.2Z" fill="#fd2a55"/>
<path d="M2367.8 2143.1L2376.4 2137.8L2382.4 2137.8L2391.0 2143.1L2391.0 2154.5L2382.4 2159.8L2376.4 2159.8L2367.8 2154.5ZM2425.3 2092.5L2433.9 2087.2L2439.9 2087.2L2448.5 2092.5L2448.5 2103.9L2439.9 2109.2L2433.9 2109.2L2425.3 2103.9ZM2487.0 2052.0L2495.6 2046.7L2501.6 2046.7L2510.2 2052.0L2510.2 2063.4L2501.6 2068.7L2495.6 2068.7L2487.0 2063.4ZM2550.9 2018.2L2559.5 2012.9L2565.5 2012.9L2574.1 2018.2L2574.1 2029.6L2565.5 2034.9L2559.5 2034.9L2550.9 2029.6ZM2613.5 1989.7L2622.1 1984.4L2628.1 1984.4L2636.7 1989.7L2636.7 2001.1L2628.1 2006.4L2622.1 2006.4L2613.5 2001.1ZM2676.1 1966.0L2684.7 1960.7L2690.7 1960.7L2699.3 1966.0L2699.3 1977.4L2690.7 1982.7L2684.7 1982.7L2676.1 1977.4ZM2735.6 1947.3L2744.2 1942.0L2750.2 1942.0L2758.8 1947.3L2758.8 1958.7L2750.2 1964.0L2744.2 1964.0L2735.6 1958.7ZM2793.7 1931.6L2802.3 1926.3L2808.3 1926.3L2816.9 1931.6L2816.9 1943.0L2808.3 1948.3L2802.3 1948.3L2793.7 1943.0ZM2851.4 1918.6L2860.0 1913.3L2866.0 1913.3L2874.6 1918.6L2874.6 1930.0L2866.0 1935.3L2860.0 1935.3L2851.4 1930.0ZM2908.4 1907.9L2917.0 1902.6L2923.0 1902.6L2931.6 1907.9L2931.6 1919.3L2923.0 1924.6L2917.0 1924.6L2908.4 1919.3ZM2965.4 1899.3L2974.0 1894.0L2980.0 1894.0L2988.6 1899.3L2988.6 1910.7L2980.0 1916.0L2974.0 1916.0L2965.4 1910.7ZM3022.4 1891.3L3031.0 1886.0L3037.0 1886.0L3045.6 1891.3L3045.6 1902.7L3037.0 1908.0L3031.0 1908.0L3022.4 1902.7ZM3078.4 1885.3L3087.0 1880.0L3093.0 1880.0L3101.6 1885.3L3101.6 1896.7L3093.0 1902.0L3087.0 1902.0L3078.4 1896.7ZM3101.0 1885.3L3109.6 1880.0L3115.6 1880.0L3124.2 1885.3L3124.2 1896.7L3115.6 1902.0L3109.6 1902.0L3101.0 1896.7Z" fill="#1f6cf4"/>
<path d="M2365.9 2080.5L2374.5 2075.2L2380.5 2075.2L2389.1 2080.5L2389.1 2091.9L2380.5 2097.2L2374.5 2097.2L2365.9 2091.9ZM2441.8 1905.9L2450.4 1900.6L2456.4 1900.6L2465.0 1905.9L2465.0 1917.3L2456.4 1922.6L2450.4 1922.6L2441.8 1917.3ZM2521.8 1771.9L2530.4 1766.6L2536.4 1766.6L2545.0 1771.9L2545.0 1783.3L2536.4 1788.6L2530.4 1788.6L2521.8 1783.3ZM2604.6 1682.1L2613.2 1676.8L2619.2 1676.8L2627.8 1682.1L2627.8 1693.5L2619.2 1698.8L2613.2 1698.8L2604.6 1693.5ZM2686.5 1621.1L2695.1 1615.8L2701.1 1615.8L2709.7 1621.1L2709.7 1632.5L2701.1 1637.8L2695.1 1637.8L2686.5 1632.5ZM2769.4 1583.1L2778.0 1577.8L2784.0 1577.8L2792.6 1583.1L2792.6 1594.5L2784.0 1599.8L2778.0 1599.8L2769.4 1594.5ZM2853.2 1571.1L2861.8 1565.8L2867.8 1565.8L2876.4 1571.1L2876.4 1582.5L2867.8 1587.8L2861.8 1587.8L2853.2 1582.5ZM2937.0 1595.2L2945.6 1589.9L2951.6 1589.9L2960.2 1595.2L2960.2 1606.6L2951.6 1611.9L2945.6 1611.9L2937.0 1606.6ZM3021.1 1647.3L3029.7 1642.0L3035.7 1642.0L3044.3 1647.3L3044.3 1658.7L3035.7 1664.0L3029.7 1664.0L3021.1 1658.7ZM3104.6 1701.3L3113.2 1696.0L3119.2 1696.0L3127.8 1701.3L3127.8 1712.7L3119.2 1718.0L3113.2 1718.0L3104.6 1712.7ZM3188.1 1741.0L3196.7 1735.7L3202.7 1735.7L3211.3 1741.0L3211.3 1752.4L3202.7 1757.7L3196.7 1757.7L3188.1 1752.4ZM3271.6 1763.3L3280.2 1758.0L3286.2 1758.0L3294.8 1763.3L3294.8 1774.7L3286.2 1780.0L3280.2 1780.0L3271.6 1774.7ZM3354.6 1777.2L3363.2 1771.9L3369.2 1771.9L3377.8 1777.2L3377.8 1788.6L3369.2 1793.9L3363.2 1793.9L3354.6 1788.6ZM3386.7 1784.0L3395.3 1778.7L3401.3 1778.7L3409.9 1784.0L3409.9 1795.4L3401.3 1800.7L3395.3 1800.7L3386.7 1795.4Z" fill="#52d23c"/>
<line x1="2379" y1="1815.7" x2="3125.1" y2="1356.4" stroke="#fe1a26" stroke-width="7" stroke-linecap="round"/>
<line x1="2247.2" y1="2011.3" x2="2938.5" y2="1633.1" stroke="#fe1a26" stroke-width="7" stroke-linecap="round"/>
<line x1="2376.8" y1="1998.6" x2="3398.3" y2="1529.9" stroke="#fe1a26" stroke-width="7" stroke-linecap="round"/>
<line x1="2378.4" y1="2092.5" x2="3115" y2="1855.5" stroke="#fe1a26" stroke-width="7" stroke-linecap="round"/>
<rect x="2176.3" y="1338.9" width="1369.6999999999998" height="953.1999999999998" fill="none" stroke="#0c0c0c" stroke-width="4.5"/>
<line x1="2176.3" y1="2227.2" x2="2192.8" y2="2227.2" stroke="#0c0c0c" stroke-width="4.5"/>
<text x="2152" y="2245.7" text-anchor="end" font-size="67" >300</text>
<line x1="2176.3" y1="2065.6" x2="2192.8" y2="2065.6" stroke="#0c0c0c" stroke-width="4.5"/>
<text x="2152" y="2084.1" text-anchor="end" font-size="67" >350</text>
<line x1="2176.3" y1="1904.0" x2="2192.8" y2="1904.0" stroke="#0c0c0c" stroke-width="4.5"/>
<text x="2152" y="1922.5" text-anchor="end" font-size="67" >400</text>
<line x1="2176.3" y1="1742.4" x2="2192.8" y2="1742.4" stroke="#0c0c0c" stroke-width="4.5"/>
<text x="2152" y="1760.9" text-anchor="end" font-size="67" >450</text>
<line x1="2176.3" y1="1580.8" x2="2192.8" y2="1580.8" stroke="#0c0c0c" stroke-width="4.5"/>
<text x="2152" y="1599.3" text-anchor="end" font-size="67" >500</text>
<line x1="2176.3" y1="1419.2" x2="2192.8" y2="1419.2" stroke="#0c0c0c" stroke-width="4.5"/>
<text x="2152" y="1437.7" text-anchor="end" font-size="67" >550</text>
<line x1="2235.2" y1="2292.1" x2="2235.2" y2="2275.6" stroke="#0c0c0c" stroke-width="4.5"/>
<text x="2235.2" y="2358.5" text-anchor="middle" font-size="67" >0</text>
<line x1="2526.4" y1="2292.1" x2="2526.4" y2="2275.6" stroke="#0c0c0c" stroke-width="4.5"/>
<text x="2526.4" y="2358.5" text-anchor="middle" font-size="67" >0.05</text>
<line x1="2817.7" y1="2292.1" x2="2817.7" y2="2275.6" stroke="#0c0c0c" stroke-width="4.5"/>
<text x="2817.7" y="2358.5" text-anchor="middle" font-size="67" >0.10</text>
<line x1="3108.9" y1="2292.1" x2="3108.9" y2="2275.6" stroke="#0c0c0c" stroke-width="4.5"/>
<text x="3108.9" y="2358.5" text-anchor="middle" font-size="67" >0.15</text>
<line x1="3400.2" y1="2292.1" x2="3400.2" y2="2275.6" stroke="#0c0c0c" stroke-width="4.5"/>
<text x="3400.2" y="2358.5" text-anchor="middle" font-size="67" >0.20</text>
<text x="2861.5" y="2455.4" text-anchor="middle" font-size="67" >True strain</text>
<text transform="translate(2009,1813.8) rotate(-90)" text-anchor="middle" font-size="67">True stress/MPa</text>
<path d="M3014.2 1934.5L3022.8 1929.2L3028.8 1929.2L3037.4 1934.5L3037.4 1945.9L3028.8 1951.2L3022.8 1951.2L3014.2 1945.9Z" fill="#35343f"/>
<path d="M3015.8 2004.7L3024.4 1999.4L3030.4 1999.4L3039.0 2004.7L3039.0 2016.1L3030.4 2021.4L3024.4 2021.4L3015.8 2016.1Z" fill="#fd2a55"/>
<path d="M3015.8 2080.4L3024.4 2075.1L3030.4 2075.1L3039.0 2080.4L3039.0 2091.8L3030.4 2097.1L3024.4 2097.1L3015.8 2091.8Z" fill="#1f6cf4"/>
<path d="M3014.2 2153.0L3022.8 2147.7L3028.8 2147.7L3037.4 2153.0L3037.4 2164.4L3028.8 2169.7L3022.8 2169.7L3014.2 2164.4Z" fill="#52d23c"/>
<line x1="2978.9" y1="2234.7" x2="3073.5" y2="2234.7" stroke="#fe1a26" stroke-width="7" stroke-linecap="butt"/>
<text x="3105" y="1966.9" font-size="67">300 K-1 965 s<tspan font-size="38" dy="-23">&#8722;1</tspan></text>
<text x="3105" y="2041.3" font-size="67">300 K-3 030 s<tspan font-size="38" dy="-23">&#8722;1</tspan></text>
<text x="3105" y="2113.6" font-size="67">575 K-2 189 s<tspan font-size="38" dy="-23">&#8722;1</tspan></text>
<text x="3105" y="2187.3" font-size="67">575 K-3 177 s<tspan font-size="38" dy="-23">&#8722;1</tspan></text>
<text x="3105" y="2251" text-anchor="start" font-size="67" >J-C</text>
<text x="3415" y="1438" font-size="67" font-style="italic">x</text>
<rect x="3446.5" y="1409.3" width="35.3" height="2.9"/><rect x="3446.5" y="1419.2" width="35.3" height="2.9"/>
<text x="3498.8" y="1438" text-anchor="middle" font-size="67" >1</text>
<text x="1935.1" y="2551.4" text-anchor="middle" font-size="67" >(b) Dynamic tensile test</text>
</svg>
</body></html>
